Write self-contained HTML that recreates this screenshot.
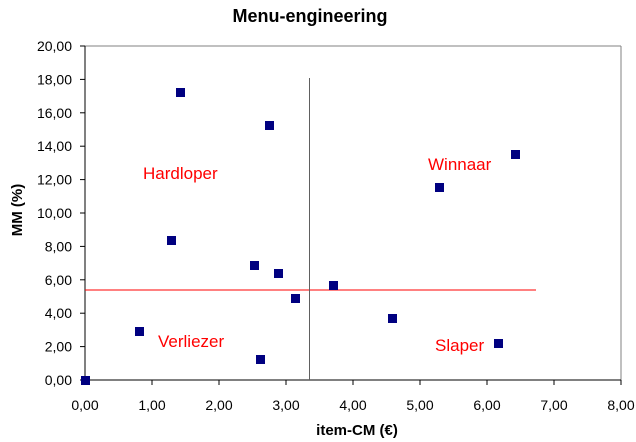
<!DOCTYPE html>
<html><head><style>body{margin:0;background:#fff}svg{display:block}</style></head><body>
<svg width="636" height="442" xmlns="http://www.w3.org/2000/svg" font-family="Liberation Sans, Arial, sans-serif">
<rect width="636" height="442" fill="#fff"/>
<text x="310" y="22" text-anchor="middle" font-size="18" font-weight="bold">Menu-engineering</text>
<line x1="85" y1="46" x2="621" y2="46" stroke="#808080"/>
<line x1="621" y1="46" x2="621" y2="380" stroke="#808080"/>
<line x1="85" y1="46" x2="85" y2="380" stroke="#000"/>
<line x1="85" y1="380" x2="621" y2="380" stroke="#000"/>
<g stroke="#000">
<line x1="80" y1="46" x2="85" y2="46"/><line x1="80" y1="79.4" x2="85" y2="79.4"/><line x1="80" y1="112.8" x2="85" y2="112.8"/><line x1="80" y1="146.2" x2="85" y2="146.2"/><line x1="80" y1="179.6" x2="85" y2="179.6"/><line x1="80" y1="213" x2="85" y2="213"/><line x1="80" y1="246.4" x2="85" y2="246.4"/><line x1="80" y1="279.8" x2="85" y2="279.8"/><line x1="80" y1="313.2" x2="85" y2="313.2"/><line x1="80" y1="346.6" x2="85" y2="346.6"/><line x1="80" y1="380" x2="85" y2="380"/>
<line x1="85" y1="380" x2="85" y2="385"/><line x1="152" y1="380" x2="152" y2="385"/><line x1="219" y1="380" x2="219" y2="385"/><line x1="286" y1="380" x2="286" y2="385"/><line x1="353" y1="380" x2="353" y2="385"/><line x1="420" y1="380" x2="420" y2="385"/><line x1="487" y1="380" x2="487" y2="385"/><line x1="554" y1="380" x2="554" y2="385"/><line x1="621" y1="380" x2="621" y2="385"/>
</g>
<g font-size="14" text-anchor="end">
<text x="72" y="51">20,00</text><text x="72" y="84.4">18,00</text><text x="72" y="117.8">16,00</text><text x="72" y="151.2">14,00</text><text x="72" y="184.6">12,00</text><text x="72" y="218">10,00</text><text x="72" y="251.4">8,00</text><text x="72" y="284.8">6,00</text><text x="72" y="318.2">4,00</text><text x="72" y="351.6">2,00</text><text x="72" y="385">0,00</text>
</g>
<g font-size="14" text-anchor="middle">
<text x="85" y="410">0,00</text><text x="152" y="410">1,00</text><text x="219" y="410">2,00</text><text x="286" y="410">3,00</text><text x="353" y="410">4,00</text><text x="420" y="410">5,00</text><text x="487" y="410">6,00</text><text x="554" y="410">7,00</text><text x="621" y="410">8,00</text>
</g>
<text x="357" y="435" text-anchor="middle" font-size="15" font-weight="bold">item-CM (€)</text>
<text transform="translate(22,210) rotate(-90)" text-anchor="middle" font-size="15" font-weight="bold">MM (%)</text>
<line x1="85" y1="290" x2="536" y2="290" stroke="#f00"/>
<line x1="309.5" y1="78" x2="309.5" y2="380" stroke="#606060"/>
<g fill="#000080">
<rect x="81" y="376" width="9" height="9"/><rect x="135" y="327" width="9" height="9"/><rect x="167" y="236" width="9" height="9"/><rect x="176" y="88" width="9" height="9"/><rect x="265" y="121" width="9" height="9"/><rect x="250" y="261" width="9" height="9"/><rect x="256" y="355" width="9" height="9"/><rect x="274" y="269" width="9" height="9"/><rect x="291" y="294" width="9" height="9"/><rect x="329" y="281" width="9" height="9"/><rect x="388" y="314" width="9" height="9"/><rect x="435" y="183" width="9" height="9"/><rect x="511" y="150" width="9" height="9"/><rect x="494" y="339" width="9" height="9"/>
</g>
<g fill="#f00" font-size="17">
<text x="143" y="179">Hardloper</text><text x="428" y="170">Winnaar</text><text x="158" y="347">Verliezer</text><text x="435" y="351">Slaper</text>
</g>
</svg>
</body></html>
